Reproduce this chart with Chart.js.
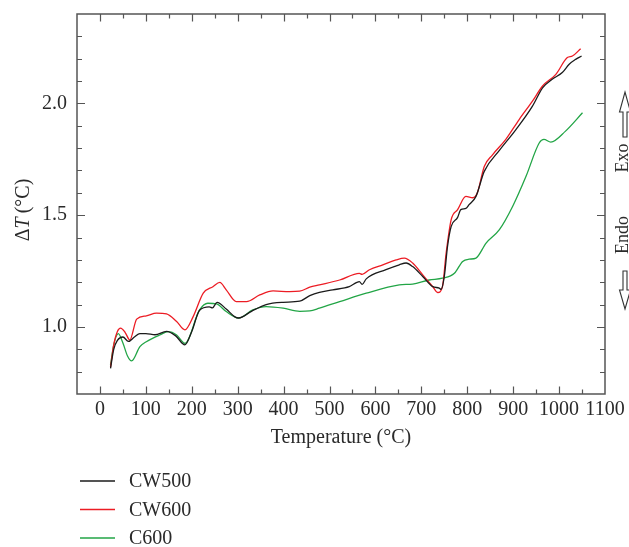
<!DOCTYPE html>
<html>
<head>
<meta charset="utf-8">
<script src="https://cdn.jsdelivr.net/npm/chart.js@4.4.0/dist/chart.umd.min.js"></script>
<style>
  html, body { margin: 0; padding: 0; background: #fff; }
  #wrap { width: 629px; height: 547px; position: relative; }
</style>
</head>
<body>
<div id="wrap"><canvas id="dtaChart"></canvas></div>
<script>
// temperature (°C) and ΔT (°C)
const cw500T = [23, 30, 38, 50, 62, 75, 87, 100, 120, 145, 165, 185, 200, 217, 238, 245, 255, 275, 294, 302, 330, 362, 399, 435, 457, 478, 507, 543, 565, 571, 580, 623, 652, 667, 681, 703, 725, 739, 743, 750, 757, 765, 779, 786, 797, 804, 819, 837, 870, 906, 942, 964, 985, 1007, 1022, 1036, 1049];
const cw500Y = [0.815, 0.90, 0.94, 0.955, 0.935, 0.955, 0.97, 0.97, 0.965, 0.98, 0.96, 0.92, 0.98, 1.075, 1.09, 1.085, 1.11, 1.08, 1.045, 1.04, 1.07, 1.10, 1.11, 1.115, 1.14, 1.155, 1.166, 1.18, 1.203, 1.19, 1.215, 1.256, 1.278, 1.286, 1.27, 1.226, 1.18, 1.174, 1.168, 1.226, 1.36, 1.45, 1.49, 1.525, 1.53, 1.547, 1.584, 1.696, 1.79, 1.883, 1.988, 2.07, 2.108, 2.138, 2.175, 2.197, 2.212];

const cw600T = [23, 30, 38, 45, 55, 65, 80, 101, 123, 145, 167, 185, 203, 225, 246, 261, 275, 297, 319, 348, 377, 413, 435, 457, 478, 522, 565, 571, 587, 616, 645, 663, 681, 703, 725, 736, 746, 754, 765, 779, 797, 812, 822, 837, 855, 884, 913, 942, 964, 993, 1018, 1029, 1047];
const cw600Y = [0.82, 0.92, 0.98, 0.995, 0.975, 0.942, 1.035, 1.05, 1.062, 1.058, 1.024, 0.987, 1.046, 1.151, 1.18, 1.199, 1.166, 1.113, 1.113, 1.143, 1.161, 1.158, 1.16, 1.178, 1.188, 1.21, 1.24, 1.235, 1.256, 1.278, 1.30, 1.308, 1.286, 1.233, 1.18, 1.154, 1.18, 1.33, 1.48, 1.525, 1.584, 1.578, 1.60, 1.718, 1.77, 1.839, 1.928, 2.01, 2.078, 2.13, 2.205, 2.212, 2.245];

const c600T = [23, 30, 40, 50, 60, 69, 87, 101, 130, 149, 167, 185, 217, 235, 254, 275, 302, 333, 362, 399, 435, 457, 478, 522, 580, 652, 681, 717, 746, 772, 790, 804, 819, 841, 870, 899, 928, 957, 967, 982, 1014, 1051];
const c600Y = [0.83, 0.92, 0.97, 0.928, 0.87, 0.848, 0.912, 0.934, 0.964, 0.979, 0.964, 0.927, 1.076, 1.106, 1.103, 1.069, 1.04, 1.076, 1.091, 1.084, 1.07, 1.072, 1.084, 1.113, 1.151, 1.188, 1.192, 1.21, 1.218, 1.24, 1.293, 1.303, 1.308, 1.375, 1.435, 1.54, 1.674, 1.824, 1.839, 1.827, 1.876, 1.958];

const seriesNames = ['CW500', 'CW600', 'C600'];
const xTickLabels = [0, 100, 200, 300, 400, 500, 600, 700, 800, 900, 1000, 1100];
const yTickLabels = [1.0, 1.5, 2.0];

const serif = "'Liberation Serif', 'DejaVu Serif', serif";
const axisColor = '#555';
const textColor = '#2a2a2a';

const toPoints = (xs, ys) => xs.map((x, i) => ({ x: x, y: ys[i] }));
const isLabelled = (list, v) => list.some(t => Math.abs(t - v) < 1e-6);

// box, inward ticks, y title, Exo/Endo marks and the legend
const decorations = {
  id: 'decorations',
  afterDraw(chart) {
    const { ctx, chartArea: a, scales: { x, y } } = chart;
    ctx.save();

    ctx.strokeStyle = axisColor;
    ctx.lineWidth = 1.5;
    ctx.strokeRect(a.left, a.top, a.right - a.left, a.bottom - a.top);

    ctx.lineWidth = 1.2;
    ctx.beginPath();
    x.ticks.forEach(t => {
      if (t.value <= x.min || t.value >= x.max) return;
      const px = Math.round(x.getPixelForValue(t.value)) + 0.5;
      const len = isLabelled(xTickLabels, t.value) ? 7.5 : 4.5;
      ctx.moveTo(px, a.bottom); ctx.lineTo(px, a.bottom - len);
      ctx.moveTo(px, a.top); ctx.lineTo(px, a.top + len);
    });
    y.ticks.forEach(t => {
      if (t.value <= y.min + 1e-6 || t.value >= y.max - 1e-6) return;
      const py = Math.round(y.getPixelForValue(t.value)) + 0.5;
      const len = isLabelled(yTickLabels, t.value) ? 8 : 5;
      ctx.moveTo(a.left, py); ctx.lineTo(a.left + len, py);
      ctx.moveTo(a.right, py); ctx.lineTo(a.right - len, py);
    });
    ctx.stroke();

    // y axis title: ΔT (°C) with italic T
    ctx.fillStyle = textColor;
    ctx.textBaseline = 'middle';
    ctx.textAlign = 'left';
    const parts = [['Δ', '20px ' + serif], ['T', 'italic 20px ' + serif], ['\u2009(°C)', '20px ' + serif]];
    let total = 0;
    parts.forEach(p => { ctx.font = p[1]; total += ctx.measureText(p[0]).width; });
    ctx.save();
    ctx.translate(24, 210);
    ctx.rotate(-Math.PI / 2);
    let cx = -total / 2;
    parts.forEach(p => { ctx.font = p[1]; ctx.fillText(p[0], cx, 0); cx += ctx.measureText(p[0]).width; });
    ctx.restore();

    // Exo / Endo on the right edge
    ctx.font = '18px ' + serif;
    ctx.textAlign = 'center';
    ctx.textBaseline = 'alphabetic';
    [['Exo', 158], ['Endo', 235]].forEach(([txt, cy]) => {
      ctx.save();
      ctx.translate(628, cy);
      ctx.rotate(-Math.PI / 2);
      ctx.fillText(txt, 0, 0);
      ctx.restore();
    });
    const arrow = (cxp, tip, base, headLen) => {
      const dir = base > tip ? 1 : -1;
      const head = tip + dir * headLen;
      ctx.beginPath();
      ctx.moveTo(cxp, tip);
      ctx.lineTo(cxp + 5.5, head);
      ctx.lineTo(cxp + 2, head);
      ctx.lineTo(cxp + 2, base);
      ctx.lineTo(cxp - 2, base);
      ctx.lineTo(cxp - 2, head);
      ctx.lineTo(cxp - 5.5, head);
      ctx.closePath();
      ctx.strokeStyle = '#333';
      ctx.lineWidth = 1.1;
      ctx.stroke();
    };
    arrow(625, 92, 137, 20);
    arrow(625, 309, 271, 19);

    // legend, stacked below the axis title
    ctx.font = '20px ' + serif;
    ctx.textAlign = 'left';
    ctx.textBaseline = 'middle';
    chart.data.datasets.forEach((ds, i) => {
      const ly = 481 + i * 28.5;
      ctx.strokeStyle = ds.borderColor;
      ctx.lineWidth = 1.5;
      ctx.beginPath();
      ctx.moveTo(80, ly); ctx.lineTo(115, ly);
      ctx.stroke();
      ctx.fillStyle = textColor;
      ctx.fillText(ds.label, 129, ly + 1);
    });

    ctx.restore();
  }
};

const lineStyle = color => ({
  borderColor: color,
  backgroundColor: color,
  borderWidth: 1.3,
  pointRadius: 0,
  cubicInterpolationMode: 'monotone',
  fill: false
});

new Chart('dtaChart', {
  type: 'line',
  data: {
    datasets: [
      { label: seriesNames[0], data: toPoints(cw500T, cw500Y), ...lineStyle('#1b1b1b') },
      { label: seriesNames[1], data: toPoints(cw600T, cw600Y), ...lineStyle('#ec1c24') },
      { label: seriesNames[2], data: toPoints(c600T, c600Y), ...lineStyle('#22a546') }
    ]
  },
  options: {
    responsive: true,
    maintainAspectRatio: false,
    animation: false,
    layout: { padding: { left: 0, right: 24, top: 14, bottom: 91 } },
    plugins: { legend: { display: false }, tooltip: { enabled: false } },
    scales: {
      x: {
        type: 'linear',
        min: -50,
        max: 1100,
        afterFit: s => { s.height = 62; s.paddingLeft = 0; s.paddingRight = 0; },
        grid: { display: false, drawTicks: false },
        border: { display: false },
        ticks: {
          stepSize: 50,
          autoSkip: false,
          maxRotation: 0,
          padding: 4,
          color: textColor,
          font: { family: serif, size: 20 },
          callback: v => isLabelled(xTickLabels, v) ? String(v) : ''
        },
        title: {
          display: true,
          text: 'Temperature (°C)',
          color: textColor,
          font: { family: serif, size: 20 },
          padding: { top: 0, bottom: 6 }
        }
      },
      y: {
        min: 0.7,
        max: 2.4,
        afterFit: s => { s.width = 77; s.paddingTop = 0; s.paddingBottom = 0; },
        grid: { display: false, drawTicks: false },
        border: { display: false },
        ticks: {
          stepSize: 0.1,
          autoSkip: false,
          padding: 10,
          color: textColor,
          font: { family: serif, size: 20 },
          callback: v => isLabelled(yTickLabels, v) ? v.toFixed(1) : ''
        }
      }
    }
  },
  plugins: [decorations]
});
</script>
</body>
</html>
